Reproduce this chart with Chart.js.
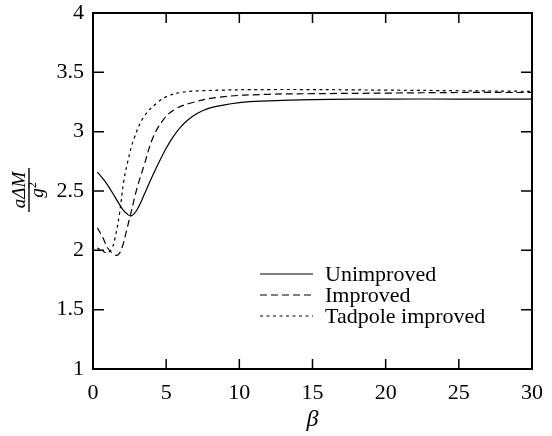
<!DOCTYPE html>
<html>
<head>
<meta charset="utf-8">
<script src="https://cdn.jsdelivr.net/npm/chart.js@4.4.0/dist/chart.umd.min.js"></script>
<style>
  body { margin: 0; background: #fff; }
  canvas { display: block; }
</style>
</head>
<body>
<canvas id="myChart" width="552" height="436"></canvas>
<script>
// values
var betaUnimproved = [0.3, 0.7, 1.0, 1.5, 2.0, 2.3, 2.6, 3.0, 3.5, 4.0, 4.5, 5.0, 5.5, 6.0, 6.5, 7.0, 8, 10, 12, 15, 20, 25, 30];
var unimproved     = [2.66, 2.60, 2.55, 2.45, 2.35, 2.31, 2.29, 2.34, 2.47, 2.61, 2.74, 2.86, 2.96, 3.04, 3.10, 3.145, 3.20, 3.245, 3.26, 3.27, 3.275, 3.275, 3.275];

var betaImproved = [0.3, 0.7, 1.0, 1.4, 1.7, 2.0, 2.3, 2.6, 3.0, 3.5, 4.1, 4.8, 5.5, 6.5, 8.6, 12, 15, 20, 25, 30];
var improved     = [2.19, 2.10, 2.02, 1.97, 1.96, 2.03, 2.17, 2.32, 2.52, 2.72, 2.95, 3.10, 3.18, 3.235, 3.29, 3.315, 3.32, 3.325, 3.33, 3.33];

var betaTadpole = [0.3, 0.7, 1.0, 1.3, 1.5, 1.8, 2.1, 2.4, 2.8, 3.5, 4.45, 5.1, 6, 7.4, 12, 20, 25, 30];
var tadpole     = [2.02, 1.99, 1.98, 2.02, 2.10, 2.30, 2.58, 2.76, 2.94, 3.13, 3.25, 3.30, 3.33, 3.345, 3.355, 3.35, 3.345, 3.34];

var seriesNames = ['Unimproved', 'Improved', 'Tadpole improved'];
var xTicks = [0, 5, 10, 15, 20, 25, 30];
var yTicks = [1, 1.5, 2, 2.5, 3, 3.5, 4];

function toPoints(xs, ys) {
  return xs.map(function (x, i) { return { x: x, y: ys[i] }; });
}

var serif = '"Liberation Serif", "DejaVu Serif", serif';

// frame, inward ticks on all four sides, legend and axis labels
var framePlugin = {
  id: 'frame',
  afterDraw: function (chart) {
    var ctx = chart.ctx;
    var a = chart.chartArea;
    var xs = chart.scales.x, ys = chart.scales.y;
    ctx.save();
    ctx.strokeStyle = '#000';
    ctx.lineWidth = 2;
    ctx.setLineDash([]);
    ctx.strokeRect(a.left, a.top, a.right - a.left, a.bottom - a.top);

    ctx.lineWidth = 1.5;
    ctx.beginPath();
    xTicks.forEach(function (v) {
      var px = xs.getPixelForValue(v);
      ctx.moveTo(px, a.bottom); ctx.lineTo(px, a.bottom - 10);
      ctx.moveTo(px, a.top); ctx.lineTo(px, a.top + 10);
    });
    yTicks.forEach(function (v) {
      var py = ys.getPixelForValue(v);
      ctx.moveTo(a.left, py); ctx.lineTo(a.left + 11, py);
      ctx.moveTo(a.right, py); ctx.lineTo(a.right - 11, py);
    });
    ctx.stroke();

    // legend inside the plot, lower right
    ctx.font = '22px ' + serif;
    ctx.fillStyle = '#000';
    ctx.textBaseline = 'middle';
    ctx.textAlign = 'left';
    chart.data.datasets.forEach(function (ds, i) {
      var y = 274 + i * 21;
      ctx.lineWidth = 1.2;
      ctx.setLineDash(ds.borderDash || []);
      ctx.beginPath();
      ctx.moveTo(260, y); ctx.lineTo(313, y);
      ctx.stroke();
      ctx.setLineDash([]);
      ctx.fillText(ds.label, 325, y + 1);
    });

    // x axis label
    ctx.font = 'italic 24px ' + serif;
    ctx.textAlign = 'center';
    ctx.fillText('β', (a.left + a.right) / 2, a.bottom + 51);

    // y axis label: a dM / g^2 as a rotated fraction
    ctx.translate(29, 190);
    ctx.rotate(-Math.PI / 2);
    ctx.lineWidth = 1.4;
    ctx.beginPath();
    ctx.moveTo(-22, 0); ctx.lineTo(22, 0);
    ctx.stroke();
    ctx.textBaseline = 'alphabetic';
    ctx.font = 'italic 19px ' + serif;
    ctx.fillText('aΔM', 0, -4);
    ctx.fillText('g', -3, 14);
    ctx.font = '12px ' + serif;
    ctx.fillText('2', 5, 7);
    ctx.restore();
  }
};

function plainLabel(v) { return String(v); }

const ctx = document.getElementById('myChart');
const myChart = new Chart(ctx, {
  type: 'line',
  data: {
    datasets: [{
      label: seriesNames[0],
      data: toPoints(betaUnimproved, unimproved),
      borderColor: '#000',
      borderWidth: 1.2,
      borderDash: []
    }, {
      label: seriesNames[1],
      data: toPoints(betaImproved, improved),
      borderColor: '#000',
      borderWidth: 1.2,
      borderDash: [7, 4]
    }, {
      label: seriesNames[2],
      data: toPoints(betaTadpole, tadpole),
      borderColor: '#000',
      borderWidth: 1.2,
      borderDash: [3, 3.5]
    }]
  },
  options: {
    responsive: false,
    animation: false,
    elements: { point: { radius: 0 }, line: { tension: 0.4 } },
    layout: { padding: { top: 13, right: 20, left: 0, bottom: 0 } },
    plugins: { legend: { display: false }, tooltip: { enabled: false } },
    scales: {
      x: {
        type: 'linear', min: 0, max: 30,
        afterFit: function (s) { s.height = 67; s.paddingLeft = 0; s.paddingRight = 0; },
        afterBuildTicks: function (s) { s.ticks = xTicks.map(function (v) { return { value: v }; }); },
        grid: { display: false, drawTicks: false },
        border: { display: false },
        ticks: { color: '#000', padding: 11, font: { family: serif, size: 22 }, callback: plainLabel }
      },
      y: {
        type: 'linear', min: 1, max: 4,
        afterFit: function (s) { s.width = 93; s.paddingTop = 0; s.paddingBottom = 0; },
        afterBuildTicks: function (s) { s.ticks = yTicks.map(function (v) { return { value: v }; }); },
        grid: { display: false, drawTicks: false },
        border: { display: false },
        ticks: { color: '#000', padding: 9, font: { family: serif, size: 22 }, callback: plainLabel }
      }
    }
  },
  plugins: [framePlugin]
});
</script>
</body>
</html>
